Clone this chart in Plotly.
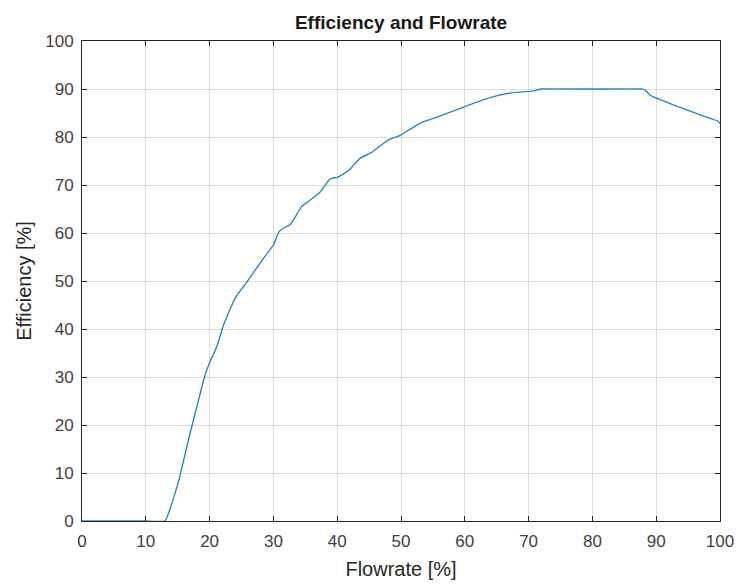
import plotly.graph_objects as go

flowrate = [0, 5, 10, 13.0, 15.1, 17.0, 18.3, 19.2, 20.0, 20.7, 21.3, 22.1, 23.0, 24.2, 25.8, 27.0, 28.5, 30.0, 30.8, 31.5, 32.6, 33.5, 34.4, 35.5, 37.3, 38.9, 40.0, 41.0, 42.0, 43.6, 45.4, 46.5, 48.0, 49.8, 51.4, 53.2, 56.6, 60.3, 64.5, 67.3, 70.0, 70.8, 72.0, 80.0, 87.7, 88.2, 89.3, 92.7, 96.9, 99.7, 100]
efficiency = [0, 0, 0, 0, 8.1, 18.6, 25.4, 30.0, 33.0, 35.0, 37.0, 40.5, 43.5, 46.9, 49.7, 52.0, 54.8, 57.5, 60.1, 61.0, 61.7, 63.5, 65.5, 66.6, 68.5, 71.3, 71.6, 72.3, 73.3, 75.6, 76.8, 77.9, 79.4, 80.3, 81.6, 83.0, 84.6, 86.5, 88.4, 89.2, 89.5, 89.6, 90.0, 90.0, 90.0, 89.8, 88.5, 86.7, 84.6, 83.3, 82.8]

x_ticks = list(range(0, 101, 10))
y_ticks = list(range(0, 101, 10))

FONT = "Liberation Sans, Arial, Helvetica"

fig = go.Figure()
fig.add_trace(go.Scatter(x=flowrate, y=efficiency, mode="lines",
                         line=dict(color="#2a86c4", width=1.4, shape="spline", smoothing=0.3),
                         showlegend=False))

axis_common = dict(
    showgrid=True, gridcolor="#dcdcdc", gridwidth=1,
    showline=True, linecolor="#262626", linewidth=1, mirror="allticks",
    ticks="inside", ticklen=5, tickcolor="#262626",
    tickfont=dict(family=FONT, size=17, color="#404040"),
    zeroline=False, automargin=False,
)

fig.update_layout(
    width=740, height=585,
    margin=dict(l=82, r=20, t=41, b=64),
    paper_bgcolor="white", plot_bgcolor="white",
    title=dict(text="<b>Efficiency and Flowrate</b>", x=0.5, xanchor="center",
               xref="paper", y=0.962, yanchor="middle",
               font=dict(family=FONT, size=19, color="#1a1a1a")),
    xaxis=dict(range=[0, 100], tickvals=x_ticks, ticklabelstandoff=5,
               title=dict(text="Flowrate [%]", standoff=11,
                          font=dict(family=FONT, size=20, color="#262626")),
               **axis_common),
    yaxis=dict(range=[0, 100], tickvals=y_ticks, ticklabelstandoff=4,
               title=dict(text="Efficiency [%]", standoff=8,
                          font=dict(family=FONT, size=20, color="#262626")),
               **axis_common),
)

fig.write_html("out.html")
